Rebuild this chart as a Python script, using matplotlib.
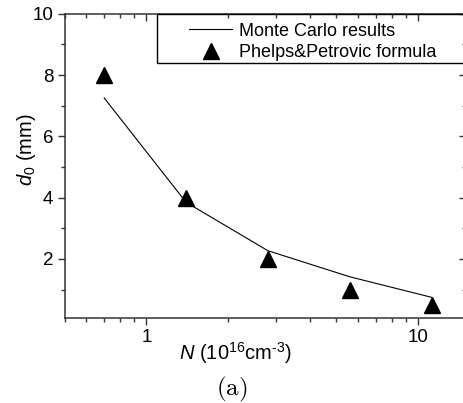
import matplotlib
matplotlib.use('Agg')
import matplotlib.pyplot as plt
from matplotlib.patches import Rectangle
from matplotlib.ticker import LogLocator, NullFormatter, MultipleLocator

plt.rcParams.update({
    'font.family': ['Liberation Sans', 'DejaVu Sans'],
    'mathtext.fontset': 'custom',
    'mathtext.rm': 'Liberation Sans',
    'mathtext.it': 'Liberation Sans:italic',
    'axes.linewidth': 1.1,
})

# density N (1e16 cm^-3)
N = [0.7, 1.4, 2.8, 5.6, 11.2]
mc_d0 = [7.25, 3.85, 2.27, 1.42, 0.75]     # Monte Carlo results
pp_d0 = [8.0, 4.0, 2.0, 1.0, 0.5]          # Phelps&Petrovic formula

W, H = 463, 403
fig = plt.figure(figsize=(W / 100, H / 100), dpi=100)
ax = fig.add_axes([64.5 / W, (H - 318) / H, (466 - 64.5) / W, (318 - 13.7) / H])

ax.plot(N, mc_d0, color='black', lw=0.8, label='Monte Carlo results')
ax.plot(N, pp_d0, ls='none', marker='^', ms=11, color='black',
        label='Phelps&Petrovic formula')

ax.set_xscale('log')
ax.set_xlim(0.5, 15)
ax.set_ylim(0.075, 10)
ax.set_xticks([1, 10], ['1', '10'])
ax.xaxis.set_minor_locator(LogLocator(base=10, subs=range(2, 10)))
ax.xaxis.set_minor_formatter(NullFormatter())
ax.set_yticks([2, 4, 6, 8, 10])
ax.yaxis.set_minor_locator(MultipleLocator(1))

for s in ax.spines.values():
    s.set_color('#333333')
ax.tick_params(which='both', labelsize=13.5, color='#333333', width=1.0)
ax.tick_params(which='major', length=5)
ax.tick_params(which='minor', length=3)
ax.tick_params(which='both', top=True, right=True, labeltop=False, labelright=False)
ax.tick_params(axis='both', which='both', direction='out', pad=3)
# mirrored ticks on top/right point into the plot
for t in ax.xaxis.get_major_ticks() + ax.xaxis.get_minor_ticks():
    t.tick2line.set_marker(3)
for t in ax.yaxis.get_major_ticks() + ax.yaxis.get_minor_ticks():
    t.tick2line.set_marker(0)

ax.set_ylabel(r'$d_0$ (mm)', fontsize=14.5)
ax.yaxis.set_label_coords(-0.066, 0.555)
ax.set_xlabel(r'$N$ (10$^{16}$cm$^{\text{-3}}$)', fontsize=14.5)
ax.xaxis.set_label_coords(0.425, -0.074)

leg = ax.legend(loc='upper left', bbox_to_anchor=(0.288, 1.0), frameon=False,
                fontsize=13, handlelength=2.4, handletextpad=0.35,
                labelspacing=0.25, borderaxespad=0.1)
ax.add_patch(Rectangle((0.231, 0.838), 0.8, 0.162, transform=ax.transAxes,
                       fill=False, lw=1.0, ec='black', clip_on=False, zorder=4))

fig.text(232 / W, 1 - 389 / H, r'$\mathrm{(a)}$', ha='center', va='center',
         fontsize=18, math_fontfamily='cm')

fig.savefig('out.png', dpi=100)
